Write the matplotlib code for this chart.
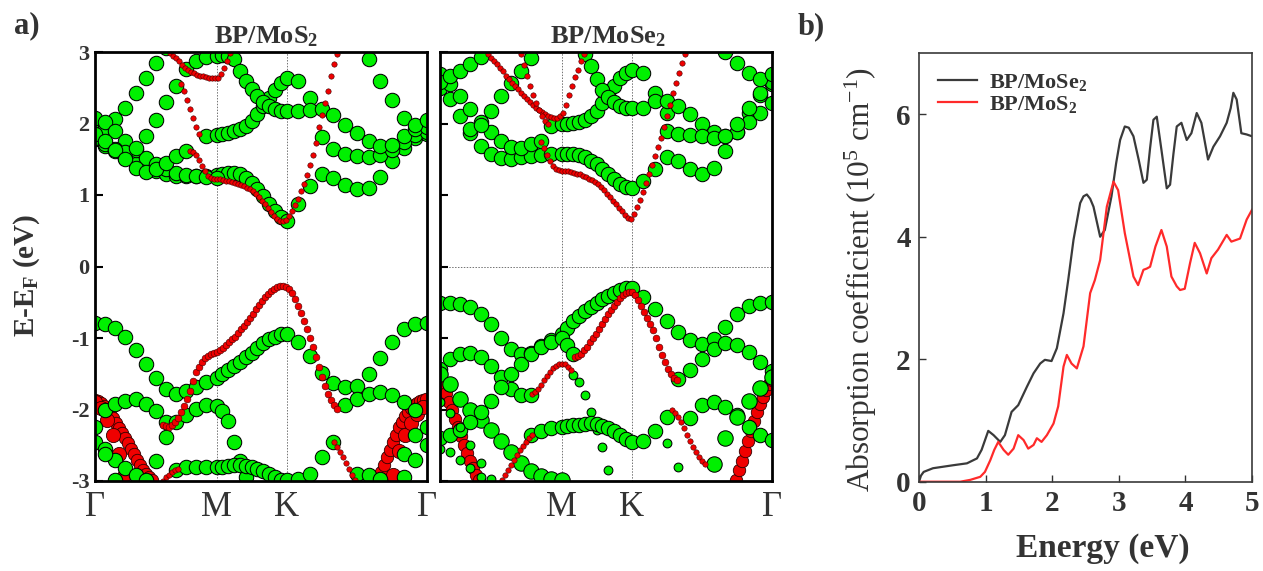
import numpy as np
import matplotlib
matplotlib.use("Agg")
import matplotlib.pyplot as plt

N = np.nan

# ---------------- high-symmetry path ----------------
k_labels_left = ["Γ", "M", "K", "Γ"]
k_labels_right = ["", "M", "K", "Γ"]
k_ticks = [0.0, 0.366, 0.5774, 1.0]
pts_per_segment = 12
k_grid = np.concatenate([np.linspace(k_ticks[0], k_ticks[1], pts_per_segment + 1),
                         np.linspace(k_ticks[1], k_ticks[2], pts_per_segment + 1)[1:],
                         np.linspace(k_ticks[2], k_ticks[3], pts_per_segment + 1)[1:]])
dk_fine = 3 / 332.0   # fine k-step of the projected (red) data

# ---------------- BP/MoS2 : BP-projected (green) bands, E - EF (eV) ----------------
mos2_cb_g1 = [1.78,1.69,1.61,1.52,1.44,1.38,1.33,1.30,1.27,1.27,1.27,1.27,1.28,
              1.30,1.31,1.31,1.29,1.24,1.17,1.08,0.98,0.88,0.78,0.69,0.64,
              0.88,1.12,1.30,1.24,1.14,1.08,1.10,1.25,1.48,1.66,1.80,1.85]
mos2_cb_g2 = [N]*27 + [1.81,1.64,1.57,1.54,1.53,1.56,1.63,1.74,1.84,1.88]
mos2_cb_g3 = [N]*11 + [1.82,1.84,1.86,1.87,1.89,1.92,1.97,2.03,2.13,2.24,2.36,2.47,2.56,2.64,2.60,2.35] + [N]*10
mos2_cb_g4 = [1.90,1.94,2.06,2.21,2.43,2.63,2.85,3.05] + [N]*29
mos2_cb_g5 = [2.08,2.02,1.90,1.76,1.63,1.52,1.43,1.36,1.31,1.28,1.26,1.25,1.24] + [N]*24
mos2_cb_g6 = [1.80,1.72,1.64,1.60,1.66,1.83,2.05,2.30,2.53] + [N]*28
mos2_cb_g7 = [1.85,1.76,1.63,1.50,1.38,1.32,1.36,1.45,1.55,1.62] + [N]*27
mos2_cb_g8 = [N]*9 + [2.76,2.87,2.93,2.95,2.96,2.94,2.90,2.74,2.60,2.48,2.38,2.30,2.24,2.20,
                      2.18,2.17,2.17,2.19,2.20,2.12,1.98,1.87,1.76,1.68,1.70,1.83,1.92,1.95]
mos2_cb_g9 = [N]*31 + [2.90,2.60,2.33,2.08,1.98,2.05]

mos2_vb_g1 = [-0.79,-0.80,-0.86,-0.99,-1.17,-1.37,-1.56,-1.71,-1.79,-1.74,-1.68,-1.61,-1.56,
              -1.50,-1.45,-1.39,-1.33,-1.27,-1.21,-1.14,-1.07,-1.02,-0.98,-0.95,-0.95,
              -1.05,-1.25,-1.49,-1.63,-1.68,-1.67,-1.50,-1.28,-1.05,-0.88,-0.80,-0.79]
mos2_vb_g2 = [N,-2.00,-1.93,-1.88,-1.86,-1.92,-2.02,-2.17] + [N]*29
mos2_vb_g3 = [N]*5 + [-3.00,-2.72,-2.38,-2.18,-2.07,-1.99,-1.94,-1.95,-2.02,-2.16,-2.45,-2.72,-2.95] + [N]*19
mos2_vb_g4 = [N]*29 + [-1.94,-1.86,-1.78,-1.75,-1.80,-1.90,-2.00] + [N]
mos2_vb_g5 = [N]*8 + [-2.84,-2.81,-2.80,-2.80,-2.80,-2.80,-2.79,-2.78,-2.78,-2.79,-2.81,-2.83,
                      -2.86,-2.90,-2.94,-2.98] + [N]*13
mos2_vb_g6 = [N]*24 + [-2.99,-2.97,-2.90,-2.66,-2.46,N,-2.90,-2.92,-2.97] + [N]*4
mos2_vb_g7 = [-2.45,-2.55,-2.70,-2.82,-2.92,-2.99] + [N]*31
mos2_vb_g8 = [-2.25,-2.62,-2.98] + [N]*34
mos2_vb_g9 = [N]*34 + [-2.62,-2.35,-2.25]
mos2_vb_g10 = [N]*34 + [-2.95,-2.70,-2.50]

# ---------------- BP/MoS2 : MoS2-projected (red) bands ----------------
mos2_red_c1 = [2.55,2.45,2.33,2.20,2.07,1.95,1.85]
mos2_red_c2 = [1.62,1.60,1.56,1.49,1.41,1.33,1.27,1.24,1.22,1.22,1.22,1.21,1.20,1.19,1.18,1.17,
               1.15,1.14,1.12,1.10,1.08,1.05,1.01,0.97,0.92,0.87,0.82,0.76,0.71,0.67,0.64,0.63,
               0.65,0.71,0.78,0.86,0.95,1.05,1.16,1.28,1.42,1.56,1.73,1.95,2.12,2.28,2.46,2.66,
               2.83,2.97]
mos2_red_c3 = [2.99,2.95,2.91,2.87,2.82,2.78,2.75,2.72,2.70,2.68,2.67,2.66,2.65,2.64,2.63,2.63,
               2.64,2.69,2.77,2.88,2.98]
mos2_red_v1 = [-2.21,-2.23,-2.24,-2.22,-2.18,-2.12,-2.04,-1.95,-1.86,-1.74,-1.60,-1.48,-1.40,
               -1.33,-1.28,-1.25,-1.23,-1.21,-1.19,-1.17,-1.14,-1.10,-1.06,-1.02,-0.98,-0.93,
               -0.88,-0.83,-0.78,-0.72,-0.66,-0.60,-0.54,-0.48,-0.43,-0.38,-0.34,-0.31,-0.29,
               -0.27,-0.27,-0.28,-0.32,-0.37,-0.45,-0.55,-0.65,-0.76,-0.88,-1.00,-1.12,-1.26,
               -1.40,-1.54,-1.67,-1.78,-1.87,-1.94,-1.99]
mos2_red_v2 = [-3.00,-2.95,-2.91,-2.88,-2.85,-2.83]
mos2_red_v3 = [-2.46,-2.52,-2.59,-2.67,-2.75,-2.83,-2.91,-2.98]
mos2_red_v4 = [-1.87,-1.88,-1.91,-1.95,-2.00,-2.06,-2.12,-2.19,-2.26,-2.33,-2.40,-2.47,-2.55,
               -2.62,-2.70,-2.77,-2.84,-2.90,-2.95,-2.99]
mos2_red_v5 = [-1.90,-1.98,-2.14,-2.36,-2.62,-2.90]
mos2_red_v6 = [-2.98,-2.87,-2.77,-2.66,-2.56,-2.45,-2.35,-2.25,-2.17,-2.09,-2.03,-1.98,-1.94,
               -1.91,-1.88,-1.87,-1.86]
mos2_red_v7 = [-2.92,-2.58,-2.36,-2.19,-2.06,-1.97]

# ---------------- BP/MoSe2 : BP-projected (green) bands ----------------
mose2_cb_g1 = [2.50,2.34,2.10,1.87,1.68,1.58,1.52,1.51,1.53,1.55,1.56,1.57,1.57,
               1.58,1.58,1.56,1.53,1.48,1.43,1.36,1.29,1.22,1.16,1.11,1.10,
               1.19,1.36,1.53,1.48,1.36,1.29,1.38,1.62,1.88,2.15,2.40,2.55]
mose2_cb_g2 = [2.69,2.55,2.38,2.20,2.02,1.88,1.75,1.67,1.66,1.71,1.75] + [N]*26
mose2_cb_g3 = [N,N,N,1.92,1.98,2.18,2.38,2.56,2.74,2.92] + [N]*27
mose2_cb_g4 = [2.58,2.66,2.74,2.83,2.93] + [N]*32
mose2_cb_g5 = [N]*11 + [1.97,1.99,2.00,2.01,2.02,2.05,2.10,2.18,2.29,2.40,2.52,2.63,2.71,2.75,
                        2.70,2.43,2.15] + [N]*9
mose2_cb_g6 = [N]*16 + [2.97,2.80,2.62,2.47,2.37,2.30,2.25,2.22,2.21,2.22,2.31,2.32,2.24,2.13,
                        2.00,1.88,1.82,1.88,2.02,2.15,2.28]
mose2_cb_g7 = [N]*27 + [1.89,1.86,1.84,1.82,1.80,1.82,2.00,2.22,2.43,2.58]
mose2_cb_g8 = [N]*32 + [3.00,2.84,2.70,2.62,2.69]

mose2_vb_g1 = [-0.51,-0.51,-0.52,-0.56,-0.67,-0.81,-1.00,-1.15,-1.23,-1.21,-1.11,-1.03,-0.95,
               -0.86,-0.76,-0.69,-0.62,-0.56,-0.51,-0.46,-0.41,-0.37,-0.33,-0.30,-0.30,
               -0.42,-0.60,-0.76,-0.91,-1.03,-1.08,-1.01,-0.84,-0.66,-0.55,-0.51,-0.50]
mose2_vb_g2 = [-1.44,-1.30,-1.23,-1.21,-1.27,-1.39,-1.54,-1.72,-1.80,-1.80] + [N]*27
mose2_vb_g3 = [N]*14 + [-1.52,-1.62,-1.80,-2.04,-2.28,-2.53,-2.85] + [N]*16
mose2_vb_g4 = [-1.50,-1.65,-1.85,-2.00,-2.15,-2.28,-2.44,-2.60,-2.75,-2.86,-2.93,-2.97,-2.99] + [N]*24
mose2_vb_g5 = [-2.40,-2.36,-2.28,-2.17,-2.03,-1.88,-1.68,-1.50,-1.36,-1.22,-1.12,-1.05,-1.00,
               -1.10,-1.22] + [N]*22
mose2_vb_g6 = [N]*9 + [-2.36,-2.30,-2.26,-2.24,-2.23,-2.22,-2.21,-2.20,-2.19,-2.20,-2.23,-2.26,
                       -2.30,-2.35,-2.41,-2.46,-2.44,-2.30,-2.10] + [N]*9
mose2_vb_g7 = [N]*28 + [-1.58,-1.45,-1.30,-1.15,-1.07,-1.10,-1.20,-1.33,-1.46]
mose2_vb_g8 = [N]*29 + [-2.12,-1.94,-1.90,-1.96,-2.08,-2.24,-2.36,-2.42]
mose2_vb_g9 = [N]*31 + [-2.76,-2.40,-2.10,-1.88,-1.70,-1.55]
mose2_vb_g10 = [-1.90,-2.05,-2.25,-2.50,-2.75,-2.97] + [N]*31
mose2_vb_g11 = [-2.55,-2.60,-2.70,-2.82,-2.95] + [N]*32
mose2_vb_g12 = [N]*27 + [-2.47,-2.80] + [N]*8

# ---------------- BP/MoSe2 : MoSe2-projected (red) bands ----------------
mose2_red_c1 = [2.97,2.92,2.87,2.83,2.78,2.73,2.67,2.62,2.57,2.52,2.48,2.43,2.38,2.34,2.30,2.26,
                2.22,2.19,2.16,2.13,2.11,2.09,2.08,2.08,2.10,2.15,2.26,2.40,2.53,2.65,2.75,2.87,2.97]
mose2_red_c2 = [2.97,2.82,2.67,2.53,2.40,2.29,2.19,2.11,2.04,1.99]
mose2_red_c3 = [1.74,1.66,1.56,1.47,1.40,1.37,1.35,1.34,1.33,1.33,1.32,1.31,1.30,1.29,1.27,1.25,
                1.23,1.21,1.18,1.15,1.11,1.07,1.02,0.97,0.92,0.87,0.82,0.77,0.72,0.68,0.67,0.74,
                0.83,0.93,1.04,1.17,1.30,1.42,1.55,1.67,1.80,1.95,2.10,2.26,2.42,2.57,2.71,2.84,2.97]
mose2_red_v1 = [-1.26,-1.25,-1.22,-1.17,-1.12,-1.06,-1.00,-0.94,-0.87,-0.80,-0.73,-0.67,-0.61,
                -0.55,-0.49,-0.44,-0.40,-0.37,-0.35,-0.36,-0.40,-0.47,-0.55,-0.63,-0.72,-0.80,
                -0.89,-1.00,-1.12,-1.24,-1.34,-1.43,-1.50,-1.56,-1.59]
mose2_red_v2 = [-1.78,-1.76,-1.72,-1.66,-1.59,-1.53,-1.47,-1.42,-1.39,-1.37,-1.36,-1.37,-1.40,-1.45]
mose2_red_v3 = [-2.98,-2.91,-2.84,-2.77,-2.70,-2.64,-2.57,-2.51,-2.45,-2.40,-2.36]
mose2_red_v4 = [-2.01,-2.05,-2.11,-2.18,-2.26,-2.35,-2.44,-2.52,-2.60,-2.67,-2.72,-2.76]
mose2_red_v5 = [-1.58,-1.66,-1.77,-1.89,-2.01,-2.13,-2.25,-2.37,-2.49,-2.61,-2.72,-2.82,-2.92,-2.99]
mose2_red_v6 = [-2.98,-2.85,-2.72,-2.58,-2.44,-2.30,-2.16,-2.03,-1.92,-1.82,-1.73,-1.65,-1.59]

# ---------------- absorption spectra ----------------
abs_energy_mose2 = [0.00,0.03,0.07,0.21,0.52,0.72,0.87,0.94,1.04,1.12,1.22,1.29,1.39,1.49,1.62,
                    1.72,1.82,1.89,1.99,2.07,2.17,2.24,2.32,2.42,2.47,2.52,2.57,2.62,2.72,2.79,
                    2.89,2.96,3.02,3.09,3.15,3.22,3.30,3.37,3.42,3.47,3.52,3.57,3.64,3.72,3.77,
                    3.82,3.87,3.94,4.02,4.09,4.17,4.24,4.34,4.42,4.52,4.62,4.68,4.72,4.77,4.84,
                    4.92,5.00]
abs_mose2 = [0.00,0.10,0.16,0.22,0.27,0.30,0.38,0.52,0.83,0.76,0.65,0.76,1.14,1.25,1.55,1.77,
             1.93,1.99,1.97,2.18,2.75,3.29,3.95,4.55,4.66,4.69,4.62,4.49,4.00,4.11,4.66,5.20,
             5.58,5.80,5.78,5.64,5.25,4.88,4.93,5.45,5.91,5.96,5.42,4.79,4.85,5.35,5.80,5.86,
             5.58,5.69,6.02,5.86,5.26,5.47,5.64,5.86,6.10,6.35,6.24,5.69,5.67,5.64]
abs_energy_mos2 = [0.00,0.30,0.62,0.77,0.92,0.99,1.07,1.13,1.19,1.27,1.34,1.42,1.49,1.57,1.64,
                   1.72,1.77,1.84,1.92,2.02,2.09,2.17,2.22,2.29,2.37,2.47,2.57,2.64,2.72,2.82,
                   2.92,2.99,3.09,3.22,3.29,3.37,3.42,3.47,3.55,3.64,3.72,3.79,3.87,3.92,3.99,
                   4.07,4.14,4.22,4.32,4.39,4.49,4.62,4.69,4.82,4.92,5.00]
abs_mos2 = [0.00,0.00,0.00,0.03,0.08,0.16,0.35,0.52,0.65,0.52,0.44,0.54,0.76,0.68,0.54,0.60,
            0.71,0.65,0.76,0.95,1.23,1.88,2.07,1.93,1.85,2.21,3.08,3.29,3.62,4.49,4.90,4.76,
            4.06,3.35,3.21,3.46,3.48,3.51,3.84,4.11,3.84,3.35,3.19,3.13,3.15,3.57,3.90,3.73,
            3.40,3.65,3.79,4.03,3.92,3.97,4.28,4.44]

# ---------------- layout / style tables ----------------
GREEN = "#00f000"
RED = "#f00000"
TXT = "#333333"
S_GREEN, S_GREEN_SMALL, S_RED_SMALL, S_RED_MID, S_RED_BIG, S_RED_HUGE = 108, 40, 15, 24, 80, 105

mos2_green = [(mos2_cb_g1, S_GREEN), (mos2_cb_g2, S_GREEN), (mos2_cb_g3, S_GREEN),
              (mos2_cb_g4, S_GREEN), (mos2_cb_g5, S_GREEN), (mos2_cb_g6, S_GREEN),
              (mos2_cb_g7, S_GREEN), (mos2_cb_g8, S_GREEN), (mos2_cb_g9, S_GREEN),
              (mos2_vb_g1, S_GREEN), (mos2_vb_g2, S_GREEN), (mos2_vb_g3, S_GREEN),
              (mos2_vb_g4, S_GREEN), (mos2_vb_g5, S_GREEN), (mos2_vb_g6, S_GREEN),
              (mos2_vb_g7, S_GREEN), (mos2_vb_g8, S_GREEN), (mos2_vb_g9, S_GREEN),
              (mos2_vb_g10, S_GREEN)]
# (values, start k, step multiplier, size)
mos2_red = [(mos2_red_c1, 0.259, 1, S_RED_SMALL), (mos2_red_c2, 0.286, 1, S_RED_SMALL),
            (mos2_red_c3, 0.226, 1, S_RED_SMALL), (mos2_red_v1, 0.205, 1, S_RED_MID),
            (mos2_red_v2, 0.205, 1, S_RED_SMALL), (mos2_red_v3, 0.720, 1, S_RED_SMALL),
            (mos2_red_v4, 0.000, 1, S_RED_BIG), (mos2_red_v5, 0.000, 2, S_RED_HUGE),
            (mos2_red_v6, 0.852, 1, S_RED_BIG), (mos2_red_v7, 0.898, 2, S_RED_HUGE)]

mose2_green = [(mose2_cb_g1, S_GREEN), (mose2_cb_g2, S_GREEN), (mose2_cb_g3, S_GREEN),
               (mose2_cb_g4, S_GREEN), (mose2_cb_g5, S_GREEN), (mose2_cb_g6, S_GREEN),
               (mose2_cb_g7, S_GREEN), (mose2_cb_g8, S_GREEN),
               (mose2_vb_g1, S_GREEN), (mose2_vb_g2, S_GREEN), (mose2_vb_g3, S_GREEN_SMALL),
               (mose2_vb_g4, S_GREEN + 15), (mose2_vb_g5, S_GREEN), (mose2_vb_g6, S_GREEN),
               (mose2_vb_g7, S_GREEN), (mose2_vb_g8, S_GREEN), (mose2_vb_g9, S_GREEN + 15),
               (mose2_vb_g10, S_GREEN_SMALL), (mose2_vb_g11, S_GREEN_SMALL),
               (mose2_vb_g12, S_GREEN_SMALL)]
mose2_red = [(mose2_red_c1, 0.1456, 1, S_RED_SMALL), (mose2_red_c2, 0.244, 1, S_RED_SMALL),
             (mose2_red_c3, 0.304, 1, S_RED_SMALL), (mose2_red_v1, 0.4066, 1, S_RED_MID),
             (mose2_red_v2, 0.277, 1, S_RED_SMALL), (mose2_red_v3, 0.1857, 1, S_RED_SMALL),
             (mose2_red_v4, 0.699, 1, S_RED_SMALL), (mose2_red_v5, 0.000, 1, S_RED_BIG),
             (mose2_red_v6, 0.8906, 1, S_RED_BIG)]

# ---------------- fonts ----------------
plt.rcParams['font.family'] = 'Liberation Serif'
plt.rcParams['mathtext.fontset'] = 'custom'
plt.rcParams['mathtext.rm'] = 'Liberation Serif'
plt.rcParams['mathtext.bf'] = 'Liberation Serif:bold'
plt.rcParams['mathtext.it'] = 'Liberation Serif:italic'

W, H = 1263, 571
fig = plt.figure(figsize=(W / 100, H / 100), dpi=100)

def fx(px):
    return px / W

def fy(py):
    return 1 - py / H

ax1 = fig.add_axes([fx(95), fy(481), fx(332), 429 / H])
ax2 = fig.add_axes([fx(440), fy(481), fx(332), 429 / H])
ax3 = fig.add_axes([fx(919), fy(481.7), fx(333), 428.7 / H])


def draw_bands(ax, green, red, labels, show_ylabels):
    ax.set_xlim(0, 1)
    ax.set_ylim(-3, 3)
    for kv in k_ticks[1:3]:
        ax.axvline(kv, color="0.45", lw=0.7, ls=(0, (1.5, 1.5)), zorder=1)
    big = [r for r in red if r[3] >= S_RED_BIG]
    small = [r for r in red if r[3] < S_RED_BIG]
    for vals, k0, step, s in big:
        e = np.array(vals)
        k = k0 + step * dk_fine * np.arange(len(e))
        ax.scatter(k, e, s=s, c=RED, edgecolors="#300000", linewidths=0.6, zorder=2)
    for vals, s in green:
        e = np.array(vals, dtype=float)
        m = ~np.isnan(e)
        ax.scatter(k_grid[m], e[m], s=s, c=GREEN, edgecolors="black", linewidths=0.75, zorder=3)
    for vals, k0, step, s in small:
        e = np.array(vals)
        k = k0 + step * dk_fine * np.arange(len(e))
        ax.scatter(k, e, s=s, c=RED, edgecolors="#400000", linewidths=0.4, zorder=4)
    ax.set_xticks(k_ticks)
    ax.set_xticklabels(labels, fontsize=25, color=TXT)
    ax.tick_params(axis="x", length=0, pad=7)
    ax.set_yticks([-3, -2, -1, 0, 1, 2, 3])
    ax.tick_params(axis="y", direction="in", length=6, width=1.5, pad=4)
    if show_ylabels:
        ax.set_yticklabels(["-3", "-2", "-1", "0", "1", "2", "3"], fontsize=16,
                           fontweight="bold", color=TXT)
    else:
        ax.set_yticklabels([])
    for sp in ax.spines.values():
        sp.set_linewidth(2.0)
        sp.set_color("black")
        sp.set_zorder(6)


draw_bands(ax1, mos2_green, mos2_red, k_labels_left, True)
draw_bands(ax2, mose2_green, mose2_red, k_labels_right, False)
ax2.axhline(0, color="0.45", lw=0.7, ls=(0, (1.5, 1.5)), zorder=1)

fig.text(fx(266), fy(37), r"BP/MoS$_\mathbf{2}$", ha="center", va="center",
         fontsize=19, fontweight="bold", color=TXT)
fig.text(fx(608), fy(37), r"BP/MoSe$_\mathbf{2}$", ha="center", va="center",
         fontsize=19, fontweight="bold", color=TXT)
fig.text(fx(27), fy(275), r"E-E$_\mathbf{F}$ (eV)", rotation=90, ha="center", va="center",
         fontsize=21, fontweight="bold", color=TXT)
fig.text(fx(14), fy(26), "a)", ha="left", va="center", fontsize=22, fontweight="bold", color=TXT)
fig.text(fx(798), fy(27), "b)", ha="left", va="center", fontsize=22, fontweight="bold", color=TXT)

# ---------------- absorption panel ----------------
ax3.plot(abs_energy_mose2, abs_mose2, color="#3a3a3a", lw=1.6, label=r"BP/MoSe$_\mathbf{2}$")
ax3.plot(abs_energy_mos2, abs_mos2, color="#ff2a2a", lw=1.6, label=r"BP/MoS$_\mathbf{2}$")
ax3.set_xlim(0, 5)
ax3.set_ylim(0, 7)
ax3.set_xticks([0, 1, 2, 3, 4, 5])
ax3.set_yticks([0, 2, 4, 6])
ax3.tick_params(direction="in", length=5, width=1.0, pad=6, labelsize=21, colors=TXT)
for lab in ax3.get_xticklabels() + ax3.get_yticklabels():
    lab.set_fontweight("bold")
for sp in ax3.spines.values():
    sp.set_linewidth(1.2)
    sp.set_color("#3a3a3a")
leg = ax3.legend(loc="upper left", bbox_to_anchor=(0.0, 1.0), frameon=False,
                 handlelength=1.75, handletextpad=0.55, labelspacing=0.05, borderaxespad=0.45,
                 prop={"family": "Liberation Serif", "weight": "bold", "size": 16})
for t in leg.get_texts():
    t.set_color(TXT)
fig.text(fx(1103), fy(549), "Energy (eV)", ha="center", va="center", fontsize=24,
         fontweight="bold", color=TXT)
fig.text(fx(861), fy(280), r"Absorption coefficient (10$^5$ cm$^{-1}$)", rotation=90,
         ha="center", va="center", fontsize=22.5, color=TXT)

fig.savefig("out.png", dpi=100)
